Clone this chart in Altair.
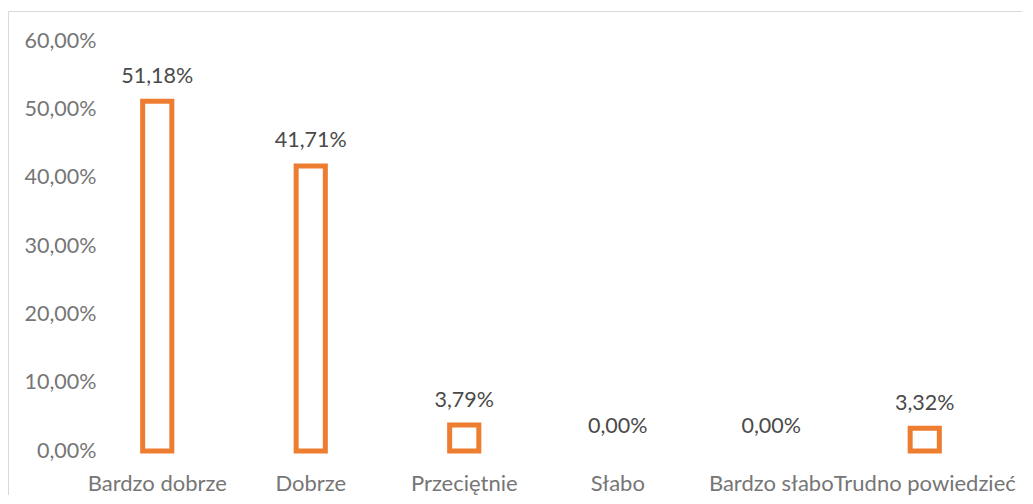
import altair as alt
import pandas as pd

categories = ["Bardzo dobrze", "Dobrze", "Przeciętnie", "Słabo", "Bardzo słabo", "Trudno powiedzieć"]
values = [0.5118, 0.4171, 0.0379, 0.0, 0.0, 0.0332]
y_ticks = [0.0, 0.1, 0.2, 0.3, 0.4, 0.5, 0.6]

df = pd.DataFrame({"cat": categories, "v": values})

FONT = "Lato"
ORANGE = "#ED7D31"

x_enc = alt.X("cat:N", sort=categories, title=None,
              scale=alt.Scale(paddingInner=0.81, paddingOuter=0.405),
              axis=alt.Axis(labelAngle=0, domain=False, ticks=False, labelPadding=39,
                            labelBaseline="alphabetic", labelFont=FONT, labelFontSize=22,
                            labelColor="#767676", labelLimit=400))
y_enc = alt.Y("v:Q", title=None,
              scale=alt.Scale(domain=[0, 0.6], nice=False),
              axis=alt.Axis(values=y_ticks, grid=False, domain=False, ticks=False,
                            labelPadding=-15.5, labelFont=FONT, labelFontSize=21.5,
                            labelColor="#767676",
                            labelExpr="replace(format(datum.value, '.2%'), '.', ',')"))

base = alt.Chart(df)

border = base.mark_rect(fill=None, stroke="#d9d9d9", strokeWidth=1).encode(
    x=alt.value(-72), x2=alt.value(1100), y=alt.value(-29.5), y2=alt.value(600)
).transform_filter("datum.cat == 'Dobrze'")

bars = base.mark_bar(fill="white", stroke=ORANGE, strokeWidth=5).encode(
    x=x_enc, y=y_enc
).transform_filter("datum.v > 0")

labels = base.mark_text(font=FONT, fontSize=21.5, color="#4a4a4a",
                        baseline="alphabetic", dy=-18.5).encode(
    x=alt.X("cat:N", sort=categories),
    y=alt.Y("v:Q"),
    text="label:N"
).transform_calculate(label="replace(format(datum.v, '.2%'), '.', ',')")

chart = alt.layer(border, bars, labels).properties(
    width=921, height=410,
    autosize=alt.AutoSizeParams(type="none"),
    padding={"left": 72.5, "top": 33, "right": 20, "bottom": 44}
).configure_view(stroke=None)

chart.save("out.html", embed_options={"renderer": "svg", "actions": False})
